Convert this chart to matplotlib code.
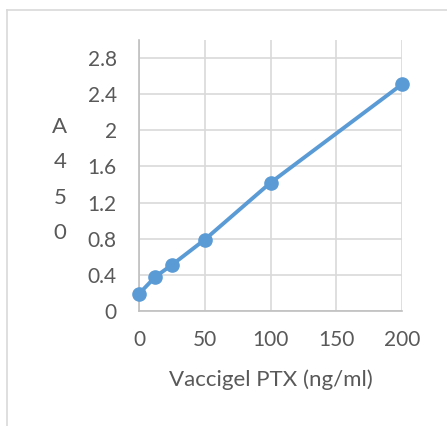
import matplotlib
matplotlib.use('Agg')
import matplotlib.pyplot as plt
from matplotlib.lines import Line2D

plt.rcParams['font.family'] = ['Lato', 'DejaVu Sans']

conc = [0, 12.5, 25, 50, 100, 200]
a450 = [0.19, 0.38, 0.51, 0.79, 1.42, 2.51]
xticks = [0, 50, 100, 150, 200]
yticks = [0, 0.4, 0.8, 1.2, 1.6, 2, 2.4, 2.8]
ytick_labels = ['0', '0.4', '0.8', '1.2', '1.6', '2', '2.4', '2.8']

txt = '#595959'
grid = '#d9d9d9'
blue = '#5b9bd5'

fig = plt.figure(figsize=(4.47, 4.26), dpi=100)
ax = fig.add_axes([139/447, 1 - 311/426, 263/447, 271/426])

ax.plot(conc, a450, color=blue, lw=2.8, marker='o', ms=9.5, clip_on=False, zorder=3)

ax.set_xlim(0, 200)
ax.set_ylim(0, 3.0)
ax.set_xticks(xticks)
ax.set_yticks(yticks)
ax.set_yticklabels(ytick_labels)
ax.grid(True, color=grid, lw=1.2)
ax.set_axisbelow(True)
ax.tick_params(length=0, labelsize=15, colors=txt)
ax.tick_params(axis='y', pad=16)
ax.tick_params(axis='x', pad=14)
for s in ['top', 'right']:
    ax.spines[s].set_visible(False)
for s in ['left', 'bottom']:
    ax.spines[s].set_color('#bfbfbf')
    ax.spines[s].set_linewidth(1.2)

ax.set_xlabel('Vaccigel PTX (ng/ml)', fontsize=16, color=txt, labelpad=14)
fig.text(60/447, 1 - 180/426, 'A\n4\n5\n0', fontsize=16, color=txt,
         ha='center', va='center', linespacing=1.95)

# chart frame
fx = 7/447
fy = 1 - 10/426
fig.add_artist(Line2D([fx, fx], [0, fy], color=grid, lw=1.2))
fig.add_artist(Line2D([fx, 1], [fy, fy], color=grid, lw=1.2))

fig.savefig('out.png', dpi=100)
